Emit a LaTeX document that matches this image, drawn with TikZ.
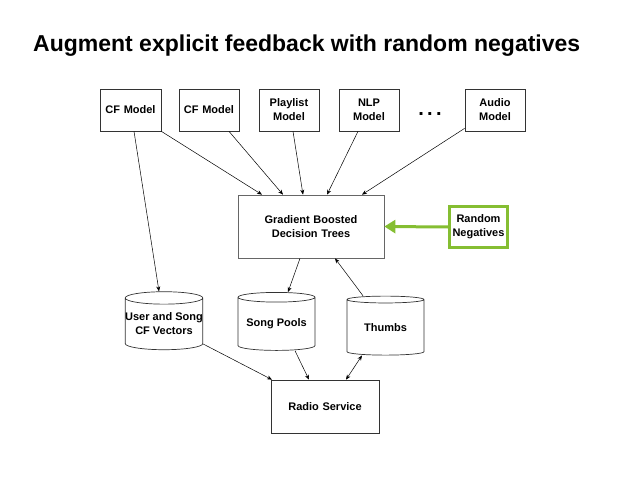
\documentclass[tikz,border=0pt]{standalone}
\usepackage{fontspec}
\setmainfont{Liberation Sans}
\usetikzlibrary{shapes.geometric,arrows.meta}
\definecolor{rngreen}{RGB}{133,190,50}

\begin{document}
\begin{tikzpicture}[x=1pt, y=-1pt, font=\bfseries\fontsize{11}{14}\selectfont]
	\tikzstyle{block} = [rectangle, draw=black!80, line width=0.7pt, inner sep=0pt,
	text width=5.5em, align=center, minimum height=42pt]
	\tikzstyle{store} = [cylinder, shape border rotate=90, aspect=0.16, draw=black!80,
	line width=0.7pt, inner sep=0pt, minimum width=76pt, minimum height=58pt, align=center]
	\tikzstyle{line} = [draw, line width=0.5pt, -{Stealth[length=5pt, width=4pt]}]
	\useasboundingbox (0,0) rectangle (638,479);
	% Title
	\node [anchor=base west, inner sep=0pt, font=\bfseries\fontsize{23}{28}\selectfont]
		(title) at (33,52) {Augment explicit feedback with random negatives};
	% Place nodes
	\node [block, minimum width=61pt, text width=61pt] (cfa) at (130.5,110) {CF Model};
	\node [block, minimum width=60pt, text width=60pt] (cfb) at (209,110) {CF Model};
	\node [block, minimum width=60pt, text width=60pt] (playlist) at (289,110) {Playlist\\Model};
	\node [block, minimum width=60pt, text width=60pt] (nlp) at (369,110) {NLP\\Model};
	\node [anchor=base, inner sep=0pt, font=\bfseries\fontsize{20}{20}\selectfont] (dots) at (430,115) {.\,.\,.};
	\node [block, minimum width=60pt, text width=60pt] (audio) at (495,110) {Audio\\Model};
	\node [block, draw=black!60, minimum width=146pt, text width=146pt, minimum height=63pt]
		(gbdt) at (311,226.5) {Gradient Boosted\\Decision Trees};
	\node [block, draw=rngreen, line width=3pt, minimum width=58pt, text width=58pt,
		minimum height=41pt] (negatives) at (478.5,227) {Random\\Negatives};
	\node [store] (vectors) at (164,324) {User and Song\\CF Vectors};
	\node [store, minimum width=77pt] (pools) at (276.5,324) {Song Pools};
	\node [store, minimum width=77pt, minimum height=59pt] (thumbs) at (385.5,327.5) {Thumbs};
	\node [block, minimum width=108pt, text width=108pt, minimum height=53pt]
		(radio) at (325,406.5) {Radio Service};
	% Draw edges
	\path [line] ([xshift=3.5pt]cfa.south) -- ([xshift=-5pt]vectors.north);
	\path [line] (cfa.south east) -- ([xshift=-49pt]gbdt.north);
	\path [line] ([xshift=20pt]cfb.south) -- ([xshift=-28pt]gbdt.north);
	\path [line] ([xshift=4pt]playlist.south) -- ([xshift=-8pt]gbdt.north);
	\path [line] ([xshift=-11pt]nlp.south) -- ([xshift=16pt]gbdt.north);
	\path [line] ([yshift=3pt]audio.south west) -- ([xshift=51pt]gbdt.north);
	\path [line, draw=rngreen, line width=3pt, -{Triangle[length=11pt, width=13pt]}]
		(negatives.west) -- (gbdt.east);
	\path [line] ([xshift=-11pt]gbdt.south) -- ([xshift=11.5pt]pools.north);
	\path [line] ([xshift=-22.5pt]thumbs.north) -- ([xshift=24pt]gbdt.south);
	\path [line] ([yshift=-20pt]vectors.east) -- ([xshift=-53pt]radio.north);
	\path [line] ([xshift=18.5pt]pools.south) -- ([xshift=-16pt]radio.north);
	\path [line, {Stealth[length=5pt, width=4pt]}-{Stealth[length=5pt, width=4pt]}]
		([xshift=-23.5pt]thumbs.south) -- ([xshift=21pt]radio.north);
\end{tikzpicture}
\end{document}
